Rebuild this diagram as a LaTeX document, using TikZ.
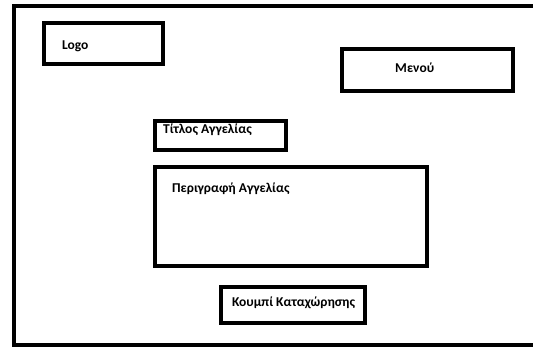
\documentclass[tikz,border=0pt]{standalone}
\usepackage{fontspec}
\setmainfont{Carlito}
\usepackage{tikz}

\tikzset{
  box/.style={line width=4pt},
  lbl/.style={font=\bfseries\fontsize{13.5}{16}\selectfont, inner sep=0pt,
    text height=1.5ex, text depth=.25ex, anchor=west},
}

\begin{document}
\begin{tikzpicture}[x=1pt,y=-1pt]
		\useasboundingbox (0,0) rectangle (533,347);
		\clip (0,0) rectangle (533,347);
		% outer frame, runs off the right and bottom edge
		\draw[box] (545,6) -- (14,6) -- (14,345) -- (545,345);
		% header
		\draw[box] (44,23) rectangle (163,64);
		\node[lbl] (logo) at (62,47) {Logo};
		\draw[box] (342,49) rectangle (513,91);
		\node[lbl] (menu) at (395,70) {Μενού};
		% ad form
		\draw[box] (155,121) rectangle (286,150);
		\node[lbl] (title) at (163,131) {Τίτλος Αγγελίας};
		\draw[box] (155,167) rectangle (427,266);
		\node[lbl] (descr) at (172,190) {Περιγραφή Αγγελίας};
		\draw[box] (221,287) rectangle (365,323);
		\node[lbl] (submit) at (232,304) {Κουμπί Καταχώρησης};
\end{tikzpicture}
\end{document}
